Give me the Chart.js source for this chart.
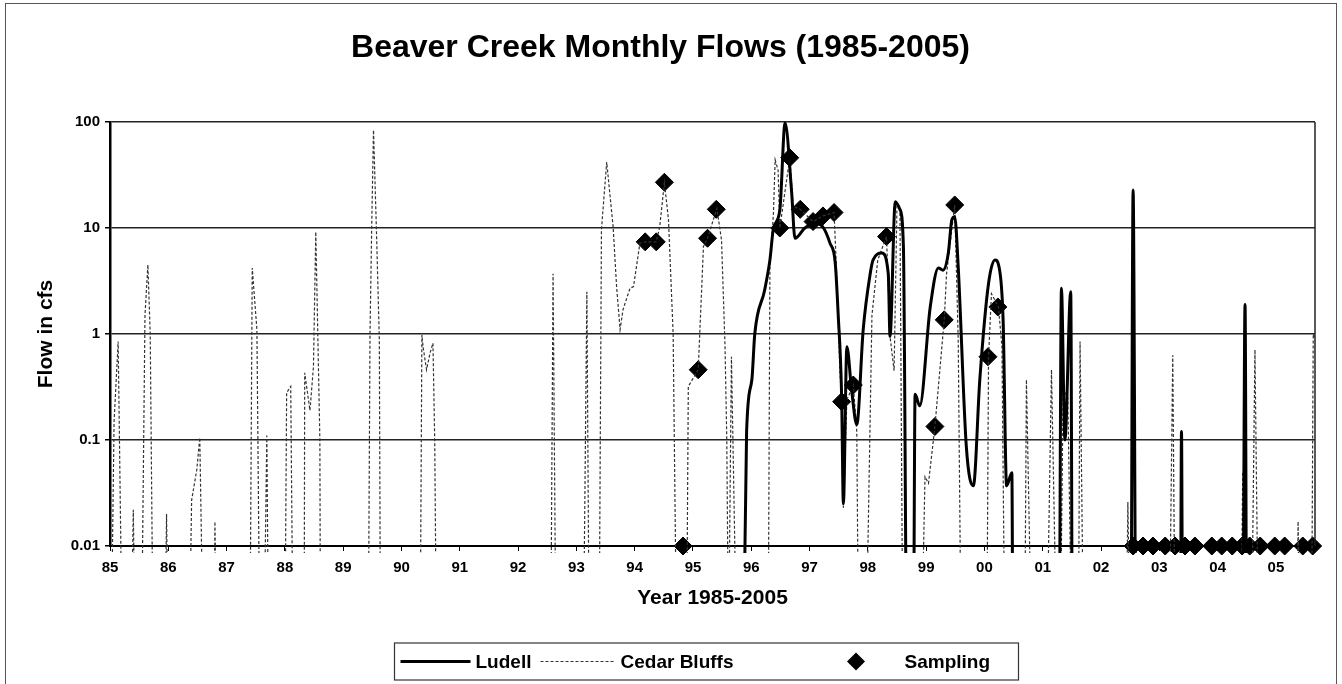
<!DOCTYPE html>
<html>
<head>
<meta charset="utf-8">
<script src="https://cdn.jsdelivr.net/npm/chart.js@4"></script>
<style>
  body { margin: 0; background: #fff; }
  #frame { position: absolute; left: 5px; top: 3px; width: 1330px; height: 700px; border: 1px solid #555; }
  canvas { display: block; }
</style>
</head>
<body>
<div id="frame"><canvas id="flows" width="1330" height="680"></canvas></div>
<script>
// tick labels
const Year_ticks = [1985, 1986, 1987, 1988, 1989, 1990, 1991, 1992, 1993, 1994, 1995,
  1996, 1997, 1998, 1999, 2000, 2001, 2002, 2003, 2004, 2005];
const Year_labels = ["85", "86", "87", "88", "89", "90", "91", "92", "93", "94", "95",
  "96", "97", "98", "99", "00", "01", "02", "03", "04", "05"];
const Flow_ticks = [0.01, 0.1, 1, 10, 100];
const Flow_labels = ["0.01", "0.1", "1", "10", "100"];

// Cedar Bluffs gauge (0.001 = no flow, drawn off the bottom of the log axis)
const Cedar_years = [
  1985.02, 1985.07, 1985.14, 1985.21, 1985.36, 1985.40, 1985.43, 1985.54, 1985.60, 1985.65,
  1985.69, 1985.74, 1985.94, 1985.97, 1986.00, 1986.36, 1986.40, 1986.49, 1986.54, 1986.60,
  1986.78, 1986.80, 1986.83, 1987.40, 1987.44, 1987.52, 1987.57, 1987.64, 1987.69, 1987.72,
  1988.00, 1988.03, 1988.10, 1988.14, 1988.33, 1988.34, 1988.43, 1988.49, 1988.53, 1988.60,
  1988.61, 1989.43, 1989.46, 1989.49, 1989.52, 1989.57, 1989.62, 1989.64, 1990.32, 1990.35,
  1990.37, 1990.43, 1990.49, 1990.54, 1990.57, 1990.60, 1992.56, 1992.60, 1992.65, 1993.12,
  1993.18, 1993.22, 1993.39, 1993.43, 1993.52, 1993.63, 1993.69, 1993.75, 1993.80, 1993.92,
  1993.98, 1994.09, 1994.18, 1994.37, 1994.43, 1994.51, 1994.58, 1994.66, 1994.72, 1994.89,
  1994.92, 1995.09, 1995.18, 1995.25, 1995.41, 1995.49, 1995.55, 1995.58, 1995.61, 1995.66,
  1995.75, 1996.29, 1996.32, 1996.38, 1996.41, 1996.46, 1996.49, 1996.66, 1996.72, 1996.84,
  1997.06, 1997.23, 1997.42, 1997.46, 1997.52, 1997.55, 1997.58, 1997.64, 1997.75, 1997.81,
  1997.84, 1997.97, 1998.07, 1998.17, 1998.32, 1998.38, 1998.45, 1998.50, 1998.55, 1998.60,
  1998.92, 1998.98, 1999.04, 1999.15, 1999.31, 1999.35, 1999.49, 1999.55, 1999.60, 2000.04,
  2000.07, 2000.12, 2000.24, 2000.30, 2000.35, 2000.69, 2000.72, 2000.81, 2001.07, 2001.15,
  2001.24, 2001.30, 2001.35, 2001.43, 2001.50, 2001.61, 2001.64, 2001.70, 2002.43, 2002.46,
  2002.50, 2003.17, 2003.23, 2003.27, 2004.40, 2004.43, 2004.46, 2004.58, 2004.64, 2004.70,
  2005.36, 2005.38, 2005.41, 2005.61, 2005.64, 2005.67];
const Cedar_flow = [
  0.001, 0.15, 0.85, 0.001, 0.001, 0.022, 0.001, 0.001, 1.5, 4.5,
  1.0, 0.001, 0.001, 0.02, 0.001, 0.001, 0.027, 0.053, 0.105, 0.001,
  0.001, 0.017, 0.001, 0.001, 4.2, 1.1, 0.001, 0.001, 0.11, 0.001,
  0.001, 0.28, 0.32, 0.001, 0.001, 0.43, 0.19, 0.49, 9.2, 0.1,
  0.001, 0.001, 1.0, 11, 84, 9.6, 0.88, 0.001, 0.001, 0.98,
  0.76, 0.46, 0.66, 0.82, 0.1, 0.001, 0.001, 3.7, 0.001, 0.001,
  2.5, 0.001, 0.001, 9.6, 42, 10.3, 2.8, 1.1, 1.7, 2.7,
  2.8, 7.2, 7.4, 7.4, 10.3, 27, 12, 1.0, 0.001, 0.001,
  0.32, 0.46, 6.7, 8.0, 15.3, 7.7, 0.76, 0.1, 0.001, 0.61,
  0.001, 0.001, 4.3, 13.7, 44, 35, 10, 46, 16, 15,
  11.5, 13, 14, 4.3, 0.46, 0.23, 0.023, 0.24, 0.33, 0.12,
  0.001, 0.001, 1.5, 5, 8.3, 0.95, 0.45, 17, 15, 0.001,
  0.001, 0.045, 0.039, 0.134, 1.36, 3.7, 16.5, 0.88, 0.001, 0.001,
  0.61, 2.4, 1.8, 0.76, 0.001, 0.001, 0.37, 0.001, 0.001, 0.46,
  0.001, 0.001, 0.3, 0.25, 0.001, 0.001, 0.85, 0.001, 0.001, 0.026,
  0.001, 0.001, 0.63, 0.001, 0.001, 0.05, 0.001, 0.001, 0.71, 0.001,
  0.001, 0.017, 0.001, 0.001, 1.0, 0.9];

// Ludell gauge
const Ludell_years = [
  1995.87, 1995.92, 1996.01, 1996.06, 1996.23, 1996.32, 1996.38, 1996.49, 1996.58, 1996.69,
  1996.75, 1996.92, 1997.12, 1997.24, 1997.35, 1997.44, 1997.49, 1997.55, 1997.58, 1997.64,
  1997.72, 1997.81, 1997.92, 1998.04, 1998.09, 1998.24, 1998.35, 1998.38, 1998.47, 1998.55,
  1998.61, 1998.67, 1998.78, 1998.81, 1998.89, 1999.07, 1999.21, 1999.29, 1999.38, 1999.44,
  1999.49, 1999.55, 1999.69, 1999.81, 1999.92, 2000.07, 2000.18, 2000.25, 2000.32, 2000.38,
  2000.47, 2000.49, 2001.28, 2001.32, 2001.38, 2001.48, 2001.51, 2002.51, 2002.55, 2002.60,
  2003.36, 2003.38, 2003.40, 2004.43, 2004.47, 2004.50, 2005.67];
const Ludell_flow = [
  0.001, 0.12, 0.37, 1.0, 2.6, 5, 9.9, 14.8, 98, 22.8,
  8, 10, 11, 10, 7.2, 4.7, 1.56, 0.26, 0.025, 0.76,
  0.3, 0.14, 1.1, 3.7, 5, 5.8, 3.7, 0.95, 17.7, 15,
  6.6, 0.001, 0.001, 0.27, 0.21, 1.8, 4.2, 4, 5.8, 11.9,
  12.8, 4.3, 0.085, 0.037, 0.37, 3.0, 5, 4.3, 1.36, 0.037,
  0.049, 0.001, 0.001, 2.7, 0.1, 2.5, 0.001, 0.001, 22.8, 0.001,
  0.001, 0.12, 0.001, 0.001, 1.9, 0.001, 0.001];

// sampling events
const Sample_years = [
  1994.18, 1994.37, 1994.51, 1994.83, 1995.09, 1995.25, 1995.40, 1996.49, 1996.66, 1996.84,
  1997.06, 1997.23, 1997.42, 1997.55, 1997.75, 1998.32, 1999.15, 1999.31, 1999.49, 2000.06,
  2000.23, 2002.55, 2002.72, 2002.89, 2003.10, 2003.27, 2003.44, 2003.61, 2003.90, 2004.07,
  2004.25, 2004.42, 2004.55, 2004.73, 2004.98, 2005.15, 2005.46, 2005.63];
const Sample_flow = [
  7.4, 7.4, 27, 0.01, 0.46, 8.0, 15, 10, 46, 15,
  11.5, 13, 14, 0.23, 0.33, 8.3, 0.134, 1.36, 16.5, 0.61,
  1.8, 0.01, 0.01, 0.01, 0.01, 0.01, 0.01, 0.01, 0.01, 0.01,
  0.01, 0.01, 0.01, 0.01, 0.01, 0.01, 0.01, 0.01];

const Font = "'Liberation Sans', Arial, sans-serif";
Chart.defaults.font.family = Font;
Chart.defaults.color = '#000';

function to_points(xs, ys) {
  return xs.map((x, i) => ({x: x, y: ys[i]}));
}

// right frame line of the plot area
const plot_border = {
  id: 'plot_border',
  afterDatasetsDraw(chart) {
    const a = chart.chartArea;
    const ctx = chart.ctx;
    ctx.save();
    ctx.strokeStyle = '#222';
    ctx.lineWidth = 1.5;
    ctx.beginPath();
    ctx.moveTo(a.right, a.top);
    ctx.lineTo(a.right, a.bottom);
    ctx.stroke();
    ctx.restore();
  }
};

// boxed legend under the axis title, laid out like the excel one
const boxed_legend = {
  id: 'boxed_legend',
  afterDraw(chart) {
    const ctx = chart.ctx;
    const a = chart.chartArea;
    const cx = (a.left + a.right) / 2;
    const top = a.bottom + 97, bottom = a.bottom + 134;
    const mid = (top + bottom) / 2;
    const ds = chart.data.datasets;
    const items = [
      {d: ds[0], x0: -312, x1: -242, tx: -237},
      {d: ds[1], x0: -172, x1: -97, tx: -92},
      {d: ds[2], x0: 107, x1: 180, tx: 192},
    ];
    ctx.save();
    ctx.strokeStyle = '#333';
    ctx.lineWidth = 1.2;
    ctx.strokeRect(cx - 318, top, 624, bottom - top);
    ctx.font = 'bold 19px ' + Font;
    ctx.textBaseline = 'middle';
    ctx.fillStyle = '#000';
    for (const it of items) {
      if (it.d.showLine === false) {
        const px = cx + (it.x0 + it.x1) / 2, r = it.d.pointRadius;
        ctx.beginPath();
        ctx.moveTo(px - r, mid); ctx.lineTo(px, mid - r);
        ctx.lineTo(px + r, mid); ctx.lineTo(px, mid + r);
        ctx.closePath();
        ctx.fill();
      } else {
        ctx.beginPath();
        ctx.setLineDash(it.d.borderDash || []);
        ctx.lineWidth = it.d.borderWidth;
        ctx.strokeStyle = it.d.borderColor;
        ctx.moveTo(cx + it.x0, mid);
        ctx.lineTo(cx + it.x1, mid);
        ctx.stroke();
        ctx.setLineDash([]);
      }
      ctx.fillText(it.d.label, cx + it.tx, mid + 1);
    }
    ctx.restore();
  }
};

new Chart("flows", {
  type: "line",
  data: {
    datasets: [{
      label: "Ludell",
      data: to_points(Ludell_years, Ludell_flow),
      borderColor: '#000', borderWidth: 3,
      pointRadius: 0, cubicInterpolationMode: 'monotone',
      clip: {left: 0, top: 0, right: 0, bottom: 7},
    }, {
      label: "Cedar Bluffs",
      data: to_points(Cedar_years, Cedar_flow),
      borderColor: '#333', borderWidth: 1.2, borderDash: [3, 2],
      pointRadius: 0, tension: 0,
      clip: {left: 0, top: 0, right: 0, bottom: 7},
    }, {
      label: "Sampling",
      data: to_points(Sample_years, Sample_flow),
      showLine: false,
      pointStyle: 'rectRot', pointRadius: 9,
      pointBackgroundColor: '#000', pointBorderColor: '#000', pointBorderWidth: 1,
      clip: false,
    }]
  },
  options: {
    responsive: false,
    animation: false,
    events: [],
    layout: {padding: {left: 0, right: 21, top: 0, bottom: 68}},
    plugins: {
      legend: {display: false},
      tooltip: {enabled: false},
      title: {
        display: true,
        text: "Beaver Creek Monthly Flows (1985-2005)",
        font: {size: 32, weight: 'bold'},
        color: '#000',
        padding: {top: 25, bottom: 54.6},
      },
    },
    scales: {
      x: {
        type: 'linear', min: 1985, max: 2005.67,
        afterBuildTicks: s => { s.ticks = Year_ticks.map(v => ({value: v})); },
        afterFit: s => { s.height = 70; },
        ticks: {
          autoSkip: false, maxRotation: 0, padding: 8,
          font: {size: 15, weight: 'bold'},
          callback: v => Year_labels[Year_ticks.indexOf(v)],
        },
        grid: {drawOnChartArea: false, tickLength: 5, tickColor: '#000'},
        border: {color: '#000', width: 2},
        title: {
          display: true, text: "Year 1985-2005",
          font: {size: 21, weight: 'bold'},
          padding: {top: 0, bottom: 5},
        },
      },
      y: {
        type: 'logarithmic', min: 0.01, max: 100,
        afterBuildTicks: s => { s.ticks = Flow_ticks.map(v => ({value: v})); },
        afterFit: s => { s.width = 104; },
        ticks: {
          padding: 5,
          font: {size: 15, weight: 'bold'},
          callback: v => Flow_labels[Flow_ticks.indexOf(v)],
        },
        grid: {color: '#222', lineWidth: 1.5, tickLength: 5, tickColor: '#000'},
        border: {color: '#000', width: 2.5},
        title: {
          display: true, text: "Flow in cfs",
          font: {size: 21, weight: 'bold'},
          padding: {top: 28, bottom: 0},
        },
      },
    },
  },
  plugins: [plot_border, boxed_legend],
});
</script>
</body>
</html>
